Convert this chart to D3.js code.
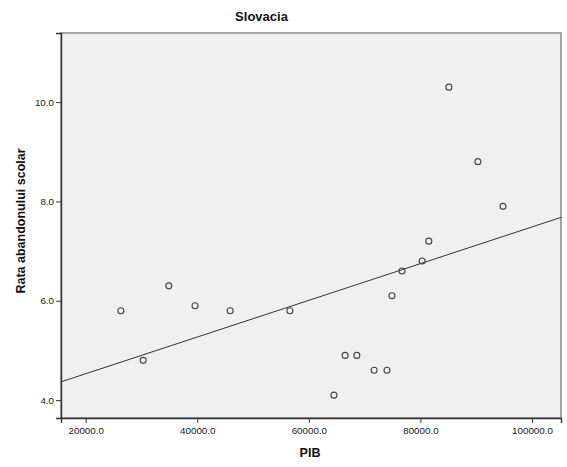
<!DOCTYPE html>
<html>
<head>
<meta charset="utf-8">
<script src="https://cdn.jsdelivr.net/npm/d3@7"></script>
<style>
  html, body { margin: 0; padding: 0; background: #ffffff; }
  svg { display: block; font-family: "Liberation Sans", Arial, sans-serif; }
</style>
</head>
<body>
<svg id="chart" width="567" height="467"></svg>
<script>
// Data
const pib = [26300, 30300, 34900, 39600, 45900, 56600, 64500, 66500, 68600, 71700, 74000, 74900, 76700, 80300, 81500, 85100, 90300, 94800];
const abandon = [5.8, 4.8, 6.3, 5.9, 5.8, 5.8, 4.1, 4.9, 4.9, 4.6, 4.6, 6.1, 6.6, 6.8, 7.2, 10.3, 8.8, 7.9];
const xTicks = [20000, 40000, 60000, 80000, 100000];
const yTicks = [4, 6, 8, 10];
const title = "Slovacia";
const xLabel = "PIB";
const yLabel = "Rata abandonului scolar";

const svg = d3.select("#chart");
const plot = { left: 61, top: 33, right: 561, bottom: 418 };

const x = d3.scaleLinear().domain([15574, 105197]).range([plot.left, plot.right]);
const y = d3.scaleLinear().domain([3.64, 11.39]).range([plot.bottom, plot.top]);

// plot background
svg.append("rect")
  .attr("x", plot.left).attr("y", plot.top)
  .attr("width", plot.right - plot.left).attr("height", plot.bottom - plot.top)
  .attr("fill", "#f0f0f0").attr("stroke", "#8a8a8a").attr("stroke-width", 1.5);

// axes
const xAxis = svg.append("g")
  .attr("transform", `translate(0,${plot.bottom})`)
  .call(d3.axisBottom(x).tickValues(xTicks).tickFormat(d3.format(".1f")).tickSizeOuter(0).tickSize(5).tickPadding(4));
const yAxis = svg.append("g")
  .attr("transform", `translate(${plot.left},0)`)
  .call(d3.axisLeft(y).tickValues(yTicks).tickFormat(d3.format(".1f")).tickSizeOuter(0).tickSize(5).tickPadding(2));

[xAxis, yAxis].forEach(g => {
  g.select(".domain").attr("stroke", "#333").attr("stroke-width", 1.4);
  g.selectAll(".tick line").attr("stroke", "#333");
  g.selectAll(".tick text").attr("fill", "#1a1a1a").attr("font-size", "9.8px")
    .attr("font-family", "'Liberation Sans', Arial, sans-serif");
});

// regression line (least squares fit)
const n = pib.length;
const mx = d3.mean(pib), my = d3.mean(abandon);
let sxy = 0, sxx = 0;
for (let i = 0; i < n; i++) { sxy += (pib[i] - mx) * (abandon[i] - my); sxx += (pib[i] - mx) ** 2; }
const slope = sxy / sxx, intercept = my - slope * mx;
const [x0, x1] = x.domain();
svg.append("line")
  .attr("x1", x(x0)).attr("y1", y(intercept + slope * x0))
  .attr("x2", x(x1)).attr("y2", y(intercept + slope * x1))
  .attr("stroke", "#333").attr("stroke-width", 1);

// points
svg.append("g").selectAll("circle")
  .data(pib.map((d, i) => [d, abandon[i]]))
  .join("circle")
  .attr("cx", d => x(d[0])).attr("cy", d => y(d[1]))
  .attr("r", 3)
  .attr("fill", "none").attr("stroke", "#444").attr("stroke-width", 1.1);

// title and labels
svg.append("text").attr("x", 261.5).attr("y", 21).attr("text-anchor", "middle")
  .attr("font-size", "13px").attr("font-weight", "bold").attr("fill", "#111").text(title);
svg.append("text").attr("x", 310).attr("y", 457).attr("text-anchor", "middle")
  .attr("font-size", "12.5px").attr("font-weight", "bold").attr("fill", "#111").text(xLabel);
svg.append("text").attr("transform", "translate(24.5,221) rotate(-90)").attr("text-anchor", "middle")
  .attr("font-size", "12.5px").attr("font-weight", "bold").attr("fill", "#111").text(yLabel);
</script>
</body>
</html>
